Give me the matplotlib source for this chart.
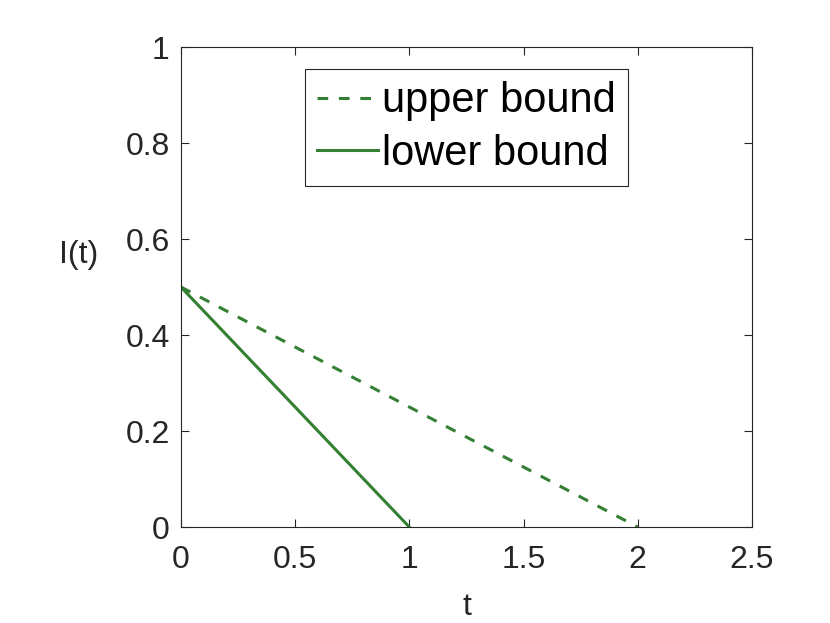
import matplotlib
matplotlib.use('Agg')
import matplotlib.pyplot as plt

plt.rcParams['font.family'] = ['Liberation Sans', 'DejaVu Sans']

t_upper = [0, 2]
i_upper = [0.5, 0]
t_lower = [0, 1]
i_lower = [0.5, 0]

green = '#338033'
dark = '#262626'

fig = plt.figure(figsize=(8.3, 6.23), dpi=100)
ax = fig.add_axes([0.218, 0.154, 0.688, 0.7705])

ax.plot(t_upper, i_upper, '--', color=green, linewidth=2.2, dashes=(3.5, 3.5), label='upper bound')
ax.plot(t_lower, i_lower, '-', color=green, linewidth=2.2, label='lower bound')

ax.set_xlim(0, 2.5)
ax.set_ylim(0, 1)
ax.set_xticks([0, 0.5, 1, 1.5, 2, 2.5])
ax.set_xticklabels(['0', '0.5', '1', '1.5', '2', '2.5'])
ax.set_yticks([0, 0.2, 0.4, 0.6, 0.8, 1])
ax.set_yticklabels(['0', '0.2', '0.4', '0.6', '0.8', '1'])

ax.tick_params(direction='in', top=True, right=True, length=6, width=0.8,
               labelsize=23, colors=dark)
ax.tick_params(axis='y', pad=8)
ax.tick_params(axis='x', pad=13)
for s in ax.spines.values():
    s.set_color(dark)
    s.set_linewidth(0.8)

ax.set_xlabel('t', fontsize=23, color=dark)
ax.xaxis.set_label_coords(0.5, -0.135)
ax.set_ylabel('I(t)', fontsize=23, color=dark, rotation=0)
ax.yaxis.set_label_coords(-0.18, 0.535)

leg = ax.legend(loc='upper center', bbox_to_anchor=(0.5, 0.955), fontsize=30,
                fancybox=False, framealpha=1, edgecolor=dark, handlelength=1.45,
                handletextpad=0.1, borderpad=0.3, labelspacing=0.3, borderaxespad=0)
leg.get_frame().set_linewidth(0.8)

fig.savefig('out.png', dpi=100)
